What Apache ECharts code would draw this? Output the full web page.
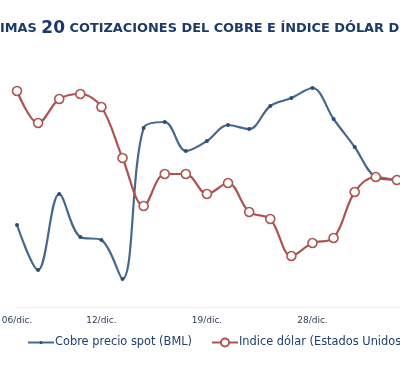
<!DOCTYPE html>
<html>
<head>
<meta charset="utf-8">
<script src="https://cdn.jsdelivr.net/npm/echarts@6/dist/echarts.min.js"></script>
<style>html,body{margin:0;padding:0;background:#fff;}#c{width:400px;height:366px;}</style>
</head>
<body>
<div id="c"></div>
<script>
var categories = ['06/dic.','07/dic.','10/dic.','11/dic.','12/dic.','13/dic.','14/dic.','17/dic.','18/dic.','19/dic.','20/dic.','21/dic.','24/dic.','27/dic.','28/dic.','31/dic.','02/ene.','03/ene.','04/ene.','07/ene.'];
var shownLabels = [0, 4, 9, 14, 19];
var cobre = [363.2, 358.7, 366.3, 362.0, 361.7, 357.8, 372.9, 373.5, 370.6, 371.6, 373.2, 372.8, 375.1, 375.9, 376.9, 373.8, 371.0, 368.0, 367.7, 367.3];
var dolar = [80.66, 80.34, 80.58, 80.63, 80.50, 79.99, 79.51, 79.83, 79.83, 79.63, 79.74, 79.45, 79.38, 79.01, 79.14, 79.19, 79.65, 79.80, 79.77, 79.79];
var seriesNames = ['Cobre precio spot (BML)', 'Indice dólar (Estados Unidos)'];
var titleText = '{a|IMAS }{b|20}{a| COTIZACIONES DEL COBRE E ÍNDICE DÓLAR D}';

var chart = echarts.init(document.getElementById('c'));
chart.setOption({
  backgroundColor: '#ffffff',
  animation: false,
  title: {
    text: titleText,
    left: 0, top: 20, padding: 0,
    textStyle: {
      rich: {
        a: {fontFamily: 'DejaVu Sans', fontWeight: 'bold', fontSize: 12.9, color: '#1b3a6b'},
        b: {fontFamily: 'DejaVu Sans', fontWeight: 'bold', fontSize: 17, color: '#1b3a6b'}
      }
    }
  },
  legend: [{
    data: [seriesNames[0]], left: 27, top: 337, itemWidth: 26, itemHeight: 4, padding: 0, itemGap: 0,
    textStyle: {fontFamily: 'DejaVu Sans', fontSize: 11.4, color: '#1f3f6e', padding: [0,0,0,-4]}
  }, {
    data: [seriesNames[1]], left: 211, top: 337, itemWidth: 26, itemHeight: 10, padding: 0, itemGap: 0,
    textStyle: {fontFamily: 'DejaVu Sans', fontSize: 11.4, color: '#1f3f6e', padding: [0,0,0,-4]}
  }],
  grid: {left: 17, width: 401, top: 60, bottom: 59, containLabel: false, outerBoundsMode: 'none'},
  xAxis: {
    type: 'category', data: categories, boundaryGap: false,
    axisLine: {show: true, lineStyle: {color: '#eeeeee', width: 1}},
    axisTick: {show: false},
    axisLabel: {
      interval: function (i) { return shownLabels.indexOf(i) >= 0; },
      fontFamily: 'DejaVu Sans', fontSize: 9, color: '#2f3e52', margin: 9
    },
    splitLine: {show: false}
  },
  yAxis: [{
    type: 'value', min: 355, max: 379.7, show: false, splitLine: {show: false}
  }, {
    type: 'value', min: 78.5, max: 80.97, show: false, splitLine: {show: false}
  }],
  series: [{
    name: seriesNames[0], type: 'line', yAxisIndex: 0, data: cobre, smooth: 0.35,
    symbol: 'circle', symbolSize: 4,
    lineStyle: {color: '#45688f', width: 2.2},
    itemStyle: {color: '#2d4d75', borderColor: '#2d4d75', borderWidth: 0}
  }, {
    name: seriesNames[1], type: 'line', yAxisIndex: 1, data: dolar, smooth: 0.35,
    symbol: 'circle', symbolSize: 9,
    lineStyle: {color: '#ad5450', width: 2.2},
    itemStyle: {color: '#ffffff', borderColor: '#ad5450', borderWidth: 1.6}
  }]
});
</script>
</body>
</html>
